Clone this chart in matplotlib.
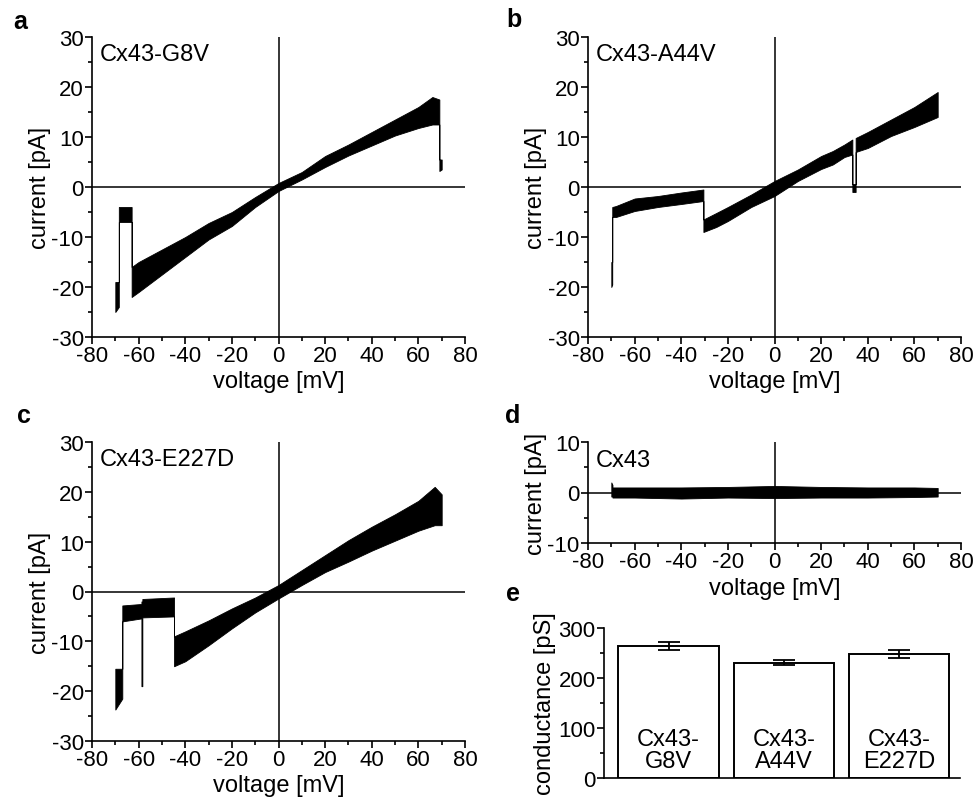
import matplotlib
matplotlib.use("Agg")
import matplotlib.pyplot as plt
from matplotlib.ticker import MultipleLocator

plt.rcParams['font.family'] = ['Liberation Sans', 'DejaVu Sans']
plt.rcParams['axes.unicode_minus'] = False

# ---- single channel I-V traces: voltage, lower and upper edge of the noise band ----
# a: Cx43-G8V
a_v = [-70, -68.5, -68.5, -63, -63, -60, -50, -40, -30, -20, -10, 0, 10, 20, 30, 40, 50, 60, 66, 69, 69, 70]
a_lo = [-25, -24, -7, -7, -22, -21, -17.5, -14, -10.5, -7.8, -4, -0.8, 1.5, 4, 6.3, 8.3, 10.3, 11.8, 12.5, 12.5, 3.2, 3.5]
a_hi = [-19, -19, -4, -4, -16, -15, -12.5, -10, -7.2, -5, -2, 0.8, 3, 6.2, 8.5, 11, 13.5, 16, 18, 17.5, 5.5, 5.5]

# b: Cx43-A44V
b_v = [-70, -69.6, -69.6, -68, -60, -50, -40, -30.5, -30.5, -25, -20, -10, 0, 10, 20, 25, 30, 33.4, 33.4,
       34.8, 34.8, 40, 50, 60, 70]
b_lo = [-20, -19.5, -6, -6, -4.8, -4, -3.4, -2.8, -9, -8, -6.8, -4, -1.8, 1.2, 3.6, 4.5, 6, 6.5, -1,
        -1, 7, 7.8, 10.2, 12, 14]
b_hi = [-15, -15, -4, -3.8, -2.3, -1.8, -1.1, -0.5, -6.5, -5.2, -4, -1.5, 1.2, 3.5, 6.2, 7.2, 8.5, 9.5, 0.6,
        0.6, 9.8, 11, 13.5, 16, 19]

# c: Cx43-E227D
c_v = [-70, -67, -67, -58.8, -58.8, -58.4, -58.4, -44.8, -44.8, -40, -30, -20, -10, 0, 10, 20, 30, 40, 50, 60, 67, 70]
c_lo = [-23.7, -21.5, -6, -5.4, -19, -19, -5.2, -5, -15, -14, -10.8, -7.4, -4.2, -1.4, 1.3, 3.9, 6, 8.2, 10.2, 12.2, 13.3, 13.3]
c_hi = [-15.5, -15.5, -2.8, -2.5, -2, -2, -1.5, -1.2, -9, -8, -5.8, -3.4, -1.2, 1.3, 4.3, 7.3, 10.3, 13, 15.5, 18.2, 21, 19.5]

# d: Cx43 (wild type)
d_v = [-70, -69.5, -69.5, -60, -40, -20, 0, 20, 40, 60, 70]
d_lo = [-0.8, -0.8, -1, -1, -1.2, -1, -1.1, -1, -1, -0.9, -0.8]
d_hi = [2, 1.5, 1, 1, 1, 1.1, 1.3, 1.1, 1, 1, 0.9]

# e: conductance
e_labels = ["Cx43-\nG8V", "Cx43-\nA44V", "Cx43-\nE227D"]
e_vals = [265, 231, 249]
e_errs = [8, 5, 8]

W, H = 974, 803
fig = plt.figure(figsize=(W / 100, H / 100), dpi=100)


def box(x0, y0, x1, y1):
    # pixel box -> figure fractions
    return [x0 / W, 1 - y1 / H, (x1 - x0) / W, (y1 - y0) / H]


def style(ax):
    for s in ["top", "right"]:
        ax.spines[s].set_visible(False)
    for s in ["left", "bottom"]:
        ax.spines[s].set_linewidth(1.2)
    ax.tick_params(which="major", direction="out", length=5, width=1.2, labelsize=16, pad=1)
    ax.tick_params(which="minor", direction="out", length=3, width=1.2)


def iv_panel(rect, v, lo, hi, name, ylim, ymaj, ymin, name_y):
    ax = fig.add_axes(rect)
    ax.axhline(0, color="black", lw=1.1)
    ax.axvline(0, color="black", lw=1.1)
    ax.fill_between(v, lo, hi, color="black", edgecolor="black", lw=0.6)
    ax.set_xlim(-80, 80)
    ax.set_ylim(*ylim)
    ax.xaxis.set_major_locator(MultipleLocator(20))
    ax.xaxis.set_minor_locator(MultipleLocator(10))
    ax.yaxis.set_major_locator(MultipleLocator(ymaj))
    ax.yaxis.set_minor_locator(MultipleLocator(ymin))
    style(ax)
    ax.set_xlabel("voltage [mV]", fontsize=17, labelpad=3)
    ax.set_ylabel("current [pA]", fontsize=17, labelpad=0)
    ax.text(0.022, name_y, name, transform=ax.transAxes, fontsize=17, va="center", ha="left")
    return ax


iv_panel(box(92, 38, 465, 338), a_v, a_lo, a_hi, "Cx43-G8V", (-30, 30), 10, 5, 0.943)
iv_panel(box(588, 38, 961, 338), b_v, b_lo, b_hi, "Cx43-A44V", (-30, 30), 10, 5, 0.943)
iv_panel(box(92, 443, 465, 742), c_v, c_lo, c_hi, "Cx43-E227D", (-30, 30), 10, 5, 0.943)
iv_panel(box(588, 443, 961, 544), d_v, d_lo, d_hi, "Cx43", (-10, 10), 10, 5, 0.82)

# e: bar chart
ax = fig.add_axes(box(604, 629, 960, 779))
x = range(len(e_vals))
ax.bar(x, e_vals, width=0.87, color="white", edgecolor="black", lw=1.4, zorder=2)
ax.errorbar(x, e_vals, yerr=e_errs, fmt="none", ecolor="black", elinewidth=1.3,
            capsize=8, capthick=1.3, zorder=3)
for i, lab in enumerate(e_labels):
    ax.text(i, 55, lab, ha="center", va="center", fontsize=17, linespacing=1.0, zorder=4)
ax.set_xlim(-0.56, 2.53)
ax.set_ylim(0, 300)
ax.yaxis.set_major_locator(MultipleLocator(100))
ax.yaxis.set_minor_locator(MultipleLocator(50))
style(ax)
ax.tick_params(axis="x", which="both", length=0, labelbottom=False)
ax.set_ylabel("conductance [pS]", fontsize=17, labelpad=2)

# panel letters
for letter, px, py in [("a", 20, 22), ("b", 514, 20), ("c", 24, 416), ("d", 513, 416), ("e", 513, 594)]:
    fig.text(px / W, 1 - py / H, letter, fontsize=18, fontweight="bold", ha="center", va="center")

fig.savefig("out.png", dpi=100)
